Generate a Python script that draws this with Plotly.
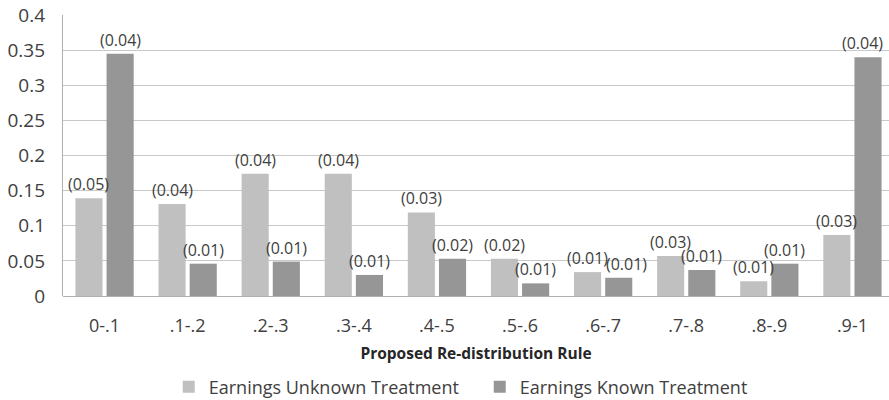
import plotly.graph_objects as go

categories = ["0-.1", ".1-.2", ".2-.3", ".3-.4", ".4-.5", ".5-.6", ".6-.7", ".7-.8", ".8-.9", ".9-1"]
unknown_vals = [0.139, 0.131, 0.174, 0.174, 0.119, 0.053, 0.034, 0.057, 0.021, 0.087]
known_vals = [0.345, 0.046, 0.049, 0.030, 0.053, 0.018, 0.026, 0.037, 0.046, 0.340]
unknown_se = ["(0.05)", "(0.04)", "(0.04)", "(0.04)", "(0.03)", "(0.02)", "(0.01)", "(0.03)", "(0.01)", "(0.03)"]
known_se = ["(0.04)", "(0.01)", "(0.01)", "(0.01)", "(0.02)", "(0.01)", "(0.01)", "(0.01)", "(0.01)", "(0.04)"]

FONT = "Open Sans"
TXT = "#404040"

W, H = 889, 400
ML, MR, MT, MB = 63, 0, 15, 104
XR = [-0.5, 9.44]
YR = [0, 0.4]
BARGAP, GROUPGAP = 0.25, 0.13
LABEL_FS = 16
LABEL_HALF_W = 21  # approx half width of a "(0.00)" label at LABEL_FS

fig = go.Figure()
fig.add_trace(go.Bar(
    x=categories, y=unknown_vals, name="Earnings Unknown Treatment",
    marker=dict(color="#c0c0c0", line=dict(width=0)), hoverinfo="x+y",
))
fig.add_trace(go.Bar(
    x=categories, y=known_vals, name="Earnings Known Treatment",
    marker=dict(color="#969696", line=dict(width=0)), hoverinfo="x+y",
))

# data labels (standard errors) above each bar, kept inside the plot area
plot_w = W - ML - MR
plot_h = H - MT - MB
px_per_cat = plot_w / (XR[1] - XR[0])
px_per_unit = plot_h / (YR[1] - YR[0])
offset = (1 - BARGAP) / 4 * px_per_cat
push = max(0.0, 2 * LABEL_HALF_W - 2 * offset - 3)
for vals, other, labels, sign in [(unknown_vals, known_vals, unknown_se, -1),
                                  (known_vals, unknown_vals, known_se, 1)]:
    for i, (c, v, o, t) in enumerate(zip(categories, vals, other, labels)):
        shift = sign * offset
        # labels of a pair at nearly the same height: move the right one aside
        if sign > 0 and abs(v - o) * px_per_unit < 12:
            shift += push
        centre = (i - XR[0]) * px_per_cat + shift
        overflow = centre + LABEL_HALF_W - (plot_w - 6)
        if overflow > 0:
            shift -= overflow
        fig.add_annotation(
            x=c, y=v, text=t, showarrow=False, xref="x", yref="y",
            xanchor="center", yanchor="middle", xshift=shift, yshift=14,
            font=dict(size=LABEL_FS, color=TXT, family=FONT),
        )

fig.update_layout(
    width=W, height=H,
    margin=dict(l=ML, r=MR, t=MT, b=MB, autoexpand=False),
    paper_bgcolor="white", plot_bgcolor="white",
    barmode="group", bargap=BARGAP, bargroupgap=GROUPGAP,
    font=dict(family=FONT, color=TXT),
    showlegend=True,
    legend=dict(orientation="h", x=0.128, xanchor="left", y=-0.324, yanchor="middle",
                font=dict(size=18, color=TXT, family=FONT), itemwidth=30,
                entrywidth=266, traceorder="normal"),
)
fig.update_xaxes(
    type="category", range=XR, automargin=False,
    showline=False, showgrid=False, zeroline=False,
    tickfont=dict(size=18, color=TXT, family=FONT), ticks="", ticklabelstandoff=17,
    title=dict(text="<b>Proposed Re-distribution Rule</b>", font=dict(size=15.5, color="#262626", family=FONT), standoff=12),
)
fig.update_yaxes(
    range=YR, dtick=0.05, tick0=0, automargin=False,
    showgrid=True, gridcolor="#c8c8c8", gridwidth=1.3,
    zeroline=True, zerolinecolor="#b0b0b0", zerolinewidth=1.3,
    showline=True, linecolor="#b0b0b0", linewidth=1.3,
    tickfont=dict(size=19, color=TXT, family=FONT), ticks="", ticklabelstandoff=13,
)

fig.write_html("out.html", config={"displayModeBar": False},
               post_script="document.body.style.margin='0px';document.body.style.overflow='hidden';")
